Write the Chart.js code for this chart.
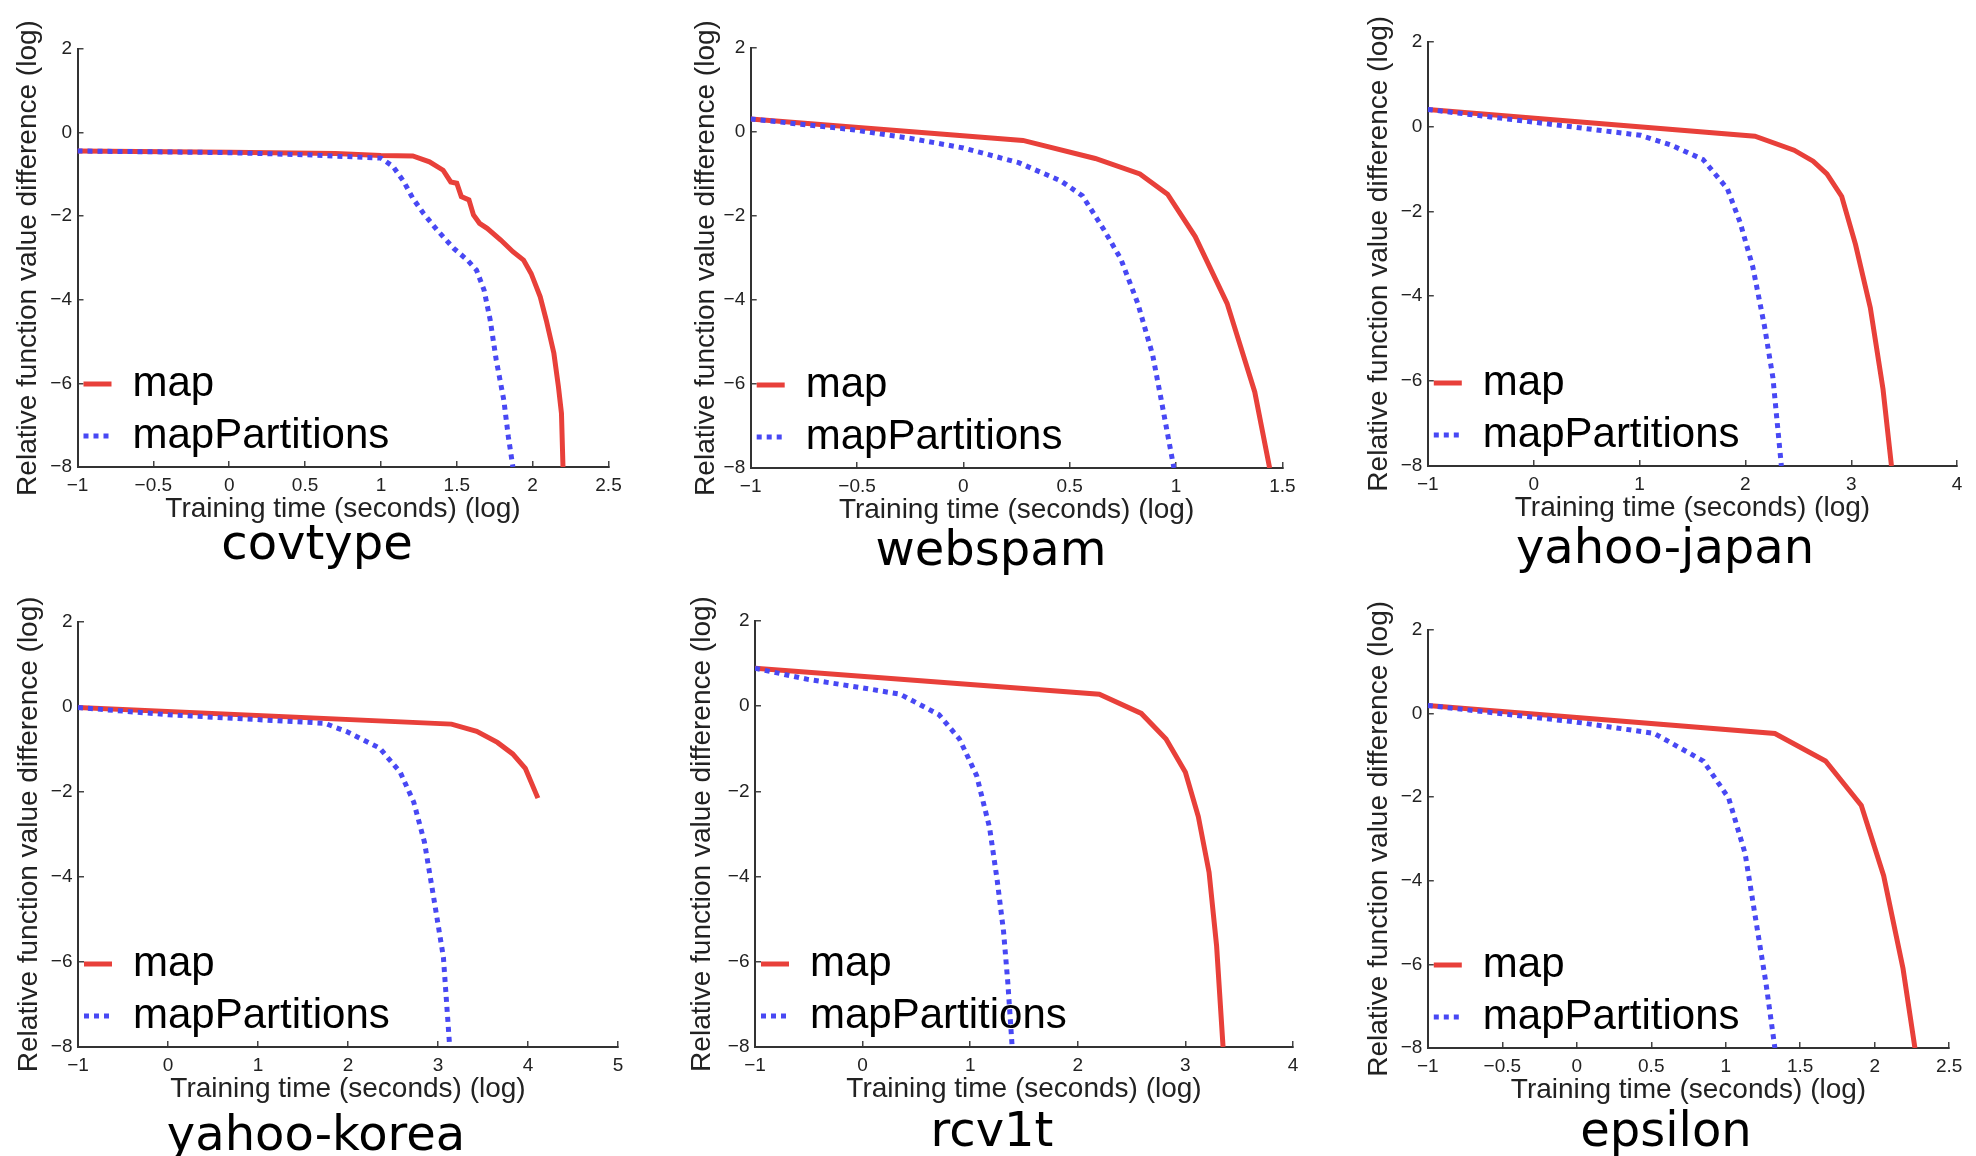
<!DOCTYPE html>
<html>
<head>
<meta charset="utf-8">
<script src="https://cdn.jsdelivr.net/npm/chart.js@4.4.1/dist/chart.umd.min.js"></script>
<style>
  html, body { margin: 0; padding: 0; background: #fff; overflow: hidden; }
  body { width: 1976px; height: 1156px; position: relative; }
  canvas { position: absolute; }
  .name {
    position: absolute;
    font-family: "DejaVu Sans";
    font-size: 48px;
    line-height: 48px;
    color: #000;
    white-space: nowrap;
    transform: translateX(-50%);
  }
</style>
</head>
<body>
<canvas id="c1" width="640" height="526" style="left:0px;top:0px"></canvas>
<canvas id="c2" width="655" height="527" style="left:660px;top:0px"></canvas>
<canvas id="c3" width="656" height="525" style="left:1320px;top:0px"></canvas>
<canvas id="c4" width="648" height="530" style="left:0px;top:576px"></canvas>
<canvas id="c5" width="663" height="530" style="left:660px;top:576px"></canvas>
<canvas id="c6" width="656" height="531" style="left:1320px;top:576px"></canvas>

<div class="name" style="left:317px;top:518px">covtype</div>
<div class="name" style="left:991px;top:524px">webspam</div>
<div class="name" style="left:1665px;top:522px">yahoo-japan</div>
<div class="name" style="left:316px;top:1109px">yahoo-korea</div>
<div class="name" style="left:992px;top:1105px">rcv1t</div>
<div class="name" style="left:1666px;top:1105px">epsilon</div>

<script>
// graduations
const yTicks = [-8, -6, -4, -2, 0, 2];
const covtypeXTicks = [-1, -0.5, 0, 0.5, 1, 1.5, 2, 2.5];
const webspamXTicks = [-1, -0.5, 0, 0.5, 1, 1.5];
const yahooJapanXTicks = [-1, 0, 1, 2, 3, 4];
const yahooKoreaXTicks = [-1, 0, 1, 2, 3, 4, 5];
const rcv1tXTicks = [-1, 0, 1, 2, 3, 4];
const epsilonXTicks = [-1, -0.5, 0, 0.5, 1, 1.5, 2, 2.5];

// courbes [temps (log), difference (log)]
const covtypeMap = [[-1, -0.44], [0, -0.47], [0.7, -0.5], [1.0, -0.55], [1.21, -0.56], [1.32, -0.70],
  [1.41, -0.90], [1.46, -1.18], [1.50, -1.21], [1.53, -1.53], [1.58, -1.61], [1.61, -1.97],
  [1.65, -2.17], [1.70, -2.29], [1.79, -2.57], [1.87, -2.85], [1.94, -3.05], [1.99, -3.37],
  [2.05, -3.93], [2.09, -4.49], [2.14, -5.28], [2.17, -6.08], [2.19, -6.72], [2.20, -8]];
const covtypePart = [[-1, -0.44], [0, -0.48], [0.5, -0.53], [1.0, -0.61], [1.08, -0.81], [1.15, -1.17],
  [1.21, -1.57], [1.28, -1.93], [1.37, -2.33], [1.48, -2.77], [1.57, -3.05], [1.63, -3.29],
  [1.68, -3.77], [1.72, -4.48], [1.76, -5.44], [1.81, -6.40], [1.84, -7.28], [1.87, -8]];

const webspamMap = [[-1, 0.31], [0.28, -0.20], [0.62, -0.63], [0.83, -1.0], [0.96, -1.48],
  [1.09, -2.49], [1.24, -4.08], [1.37, -6.19], [1.44, -8]];
const webspamPart = [[-1, 0.31], [-0.53, 0.06], [-0.24, -0.16], [0, -0.38], [0.26, -0.73], [0.46, -1.17],
  [0.56, -1.52], [0.66, -2.32], [0.74, -3.02], [0.82, -4.08], [0.89, -5.31], [0.93, -6.37], [0.99, -8]];

const yahooJapanMap = [[-1, 0.40], [2.09, -0.23], [2.46, -0.56], [2.64, -0.82], [2.77, -1.12],
  [2.91, -1.65], [3.04, -2.78], [3.18, -4.27], [3.30, -6.19], [3.38, -8]];
const yahooJapanPart = [[-1, 0.40], [0, 0.10], [1.01, -0.21], [1.29, -0.43], [1.60, -0.78], [1.83, -1.47],
  [1.95, -2.26], [2.07, -3.31], [2.18, -4.70], [2.26, -5.92], [2.34, -8]];

const yahooKoreaMap = [[-1, -0.02], [3.15, -0.41], [3.43, -0.58], [3.66, -0.84], [3.83, -1.11],
  [3.97, -1.45], [4.11, -2.15]];
const yahooKoreaPart = [[-1, -0.02], [0.01, -0.19], [1.74, -0.39], [1.98, -0.58], [2.35, -0.97],
  [2.58, -1.54], [2.73, -2.24], [2.85, -3.19], [2.96, -4.59], [3.06, -5.89], [3.13, -8]];

const rcv1tMap = [[-1, 0.89], [2.20, 0.28], [2.59, -0.17], [2.82, -0.77], [3.0, -1.55], [3.12, -2.59],
  [3.22, -3.90], [3.29, -5.63], [3.35, -8]];
const rcv1tPart = [[-1, 0.89], [-0.51, 0.63], [0, 0.43], [0.35, 0.28], [0.71, -0.20], [0.90, -0.77],
  [1.06, -1.63], [1.18, -2.85], [1.25, -4.07], [1.31, -5.29], [1.35, -6.5], [1.39, -8]];

const epsilonMap = [[-1, 0.19], [1.33, -0.48], [1.67, -1.14], [1.91, -2.20], [2.06, -3.88],
  [2.19, -6.10], [2.27, -8]];
const epsilonPart = [[-1, 0.19], [0, -0.21], [0.52, -0.48], [0.85, -1.14], [1.02, -2.03], [1.13, -3.35],
  [1.21, -5.12], [1.27, -6.45], [1.33, -8]];

// mise en page de chaque figure (marges en px)
const panels = [
  { id: 'c1', map: covtypeMap, part: covtypePart, xTicks: covtypeXTicks, top: 49, right: 31.5, yW: 77.5, titleGap: 11.2 },
  { id: 'c2', map: webspamMap, part: webspamPart, xTicks: webspamXTicks, top: 48, right: 32.6, yW: 90.7, titleGap: 29.2 },
  { id: 'c3', map: yahooJapanMap, part: yahooJapanPart, xTicks: yahooJapanXTicks, top: 41.5, right: 8, yW: 107.8, titleGap: 42.2 },
  { id: 'c4', map: yahooKoreaMap, part: yahooKoreaPart, xTicks: yahooKoreaXTicks, top: 45.6, right: 30, yW: 78, titleGap: 12.7 },
  { id: 'c5', map: rcv1tMap, part: rcv1tPart, xTicks: rcv1tXTicks, top: 45, right: 30, yW: 95, titleGap: 25.2 },
  { id: 'c6', map: epsilonMap, part: epsilonPart, xTicks: epsilonXTicks, top: 53.7, right: 18, yW: 107.8, titleGap: 42.2 }
];

const RED = '#e8403a';
const BLUE = '#4848f4';
const X_AXIS_H = 59;

Chart.defaults.font.family = '"Liberation Sans", Arial, sans-serif';

const fmt = v => String(v).replace('-', '\u2212');
const toPoints = arr => arr.map(([x, y]) => ({ x: x, y: y }));

// la légende 'chartArea' se place mal verticalement, on la recale sur la zone du graphe
const legendInPlot = {
    id: 'legendInPlot',
    afterLayout(chart) {
        const a = chart.chartArea;
        if (chart.legend) {
            chart.legend.top = a.top;
            chart.legend.bottom = a.bottom;
            chart.legend.left = a.left - 4;
        }
    }
};

// avec usePointStyle le style vient du point : on remet le pointillé de la courbe
function legendLabels(chart) {
    const items = Chart.defaults.plugins.legend.labels.generateLabels(chart);
    items.forEach(item => {
        const ds = chart.data.datasets[item.datasetIndex];
        item.lineDash = ds.borderDash || [];
        item.lineWidth = ds.borderWidth;
        item.strokeStyle = ds.borderColor;
    });
    return items;
}

function axisCommon() {
    return {
        grid: { drawOnChartArea: false, drawTicks: true, tickLength: -6, color: '#444', lineWidth: 1.5 },
        border: { display: true, color: '#333', width: 2 }
    };
}

panels.forEach(p => {
    const ctx = document.getElementById(p.id).getContext('2d');
    new Chart(ctx, {
        type: 'line',
        data: {
            datasets: [
                {
                    label: 'map',
                    data: toPoints(p.map),
                    borderColor: RED,
                    borderWidth: 5,
                    pointRadius: 0,
                    tension: 0,
                    order: 1
                },
                {
                    label: 'mapPartitions',
                    data: toPoints(p.part),
                    borderColor: BLUE,
                    borderWidth: 5,
                    borderDash: [5, 5],
                    pointRadius: 0,
                    tension: 0,
                    order: 0
                }
            ]
        },
        options: {
            responsive: false,
            animation: false,
            events: [],
            layout: { padding: { left: 0, top: p.top, right: p.right, bottom: 0 } },
            scales: {
                x: Object.assign(axisCommon(), {
                    type: 'linear',
                    min: p.xTicks[0],
                    max: p.xTicks[p.xTicks.length - 1],
                    afterBuildTicks: s => { s.ticks = p.xTicks.map(v => ({ value: v })); },
                    afterFit: s => { s.height = X_AXIS_H; },
                    ticks: { callback: fmt, padding: 13.6, autoSkip: false, maxRotation: 0,
                             color: '#222', font: { size: 19 } },
                    title: { display: true, text: 'Training time (seconds) (log)', color: '#222',
                             font: { size: 28 }, padding: 0 }
                }),
                y: Object.assign(axisCommon(), {
                    type: 'linear',
                    min: -8,
                    max: 2,
                    afterBuildTicks: s => { s.ticks = yTicks.map(v => ({ value: v })); },
                    afterFit: s => { s.width = p.yW; },
                    ticks: { callback: fmt, padding: 11.5, autoSkip: false, color: '#222', font: { size: 19 } },
                    title: { display: true, text: 'Relative function value difference (log)', color: '#222',
                             font: { size: 28 }, padding: { top: p.titleGap, bottom: 0 } }
                })
            },
            plugins: {
                legend: {
                    position: 'chartArea',
                    align: 'end',
                    labels: {
                        usePointStyle: true,
                        pointStyle: 'line',
                        pointStyleWidth: 28,
                        padding: 10,
                        color: '#000',
                        font: { size: 42 },
                        generateLabels: legendLabels,
                        sort: (a, b) => a.datasetIndex - b.datasetIndex
                    }
                },
                tooltip: { enabled: false }
            }
        },
        plugins: [legendInPlot]
    });
});
</script>
</body>
</html>
